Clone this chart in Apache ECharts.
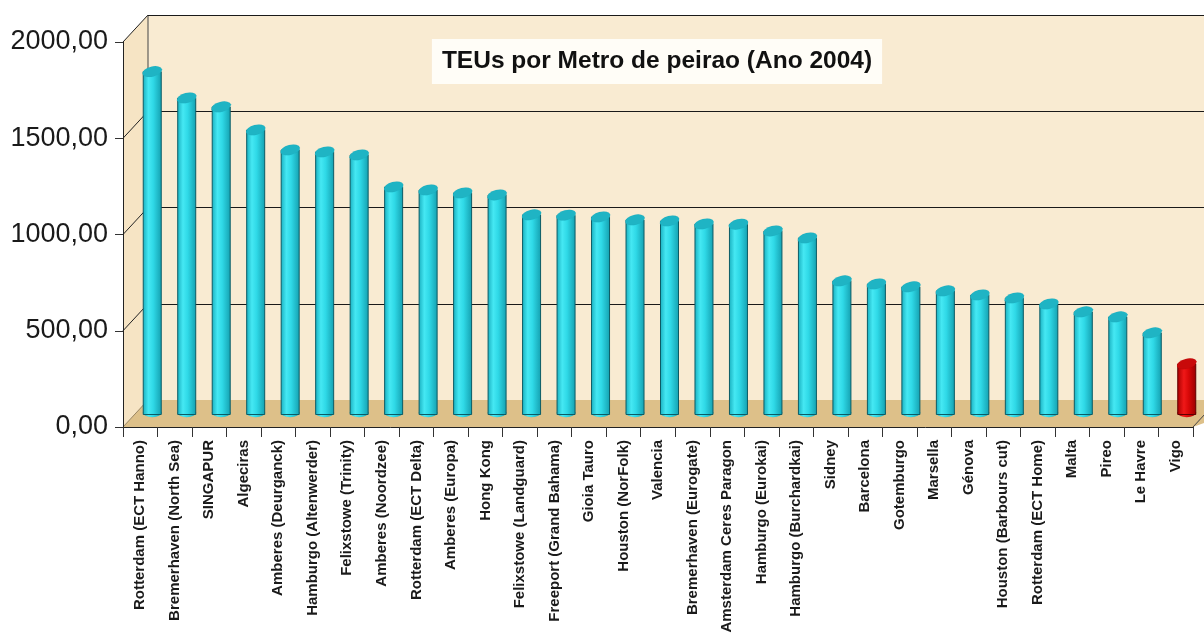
<!DOCTYPE html>
<html>
<head>
<meta charset="utf-8">
<script src="https://cdn.jsdelivr.net/npm/echarts@6/dist/echarts.min.js"></script>
<style>
html,body{margin:0;padding:0;background:#fff;}
#chart{width:1204px;height:642px;}
</style>
</head>
<body>
<div id="chart"></div>
<script>
// ---- data ----
const categories = [
  'Rotterdam (ECT Hanno)', 'Bremerhaven (North Sea)', 'SINGAPUR', 'Algeciras',
  'Amberes (Deurganck)', 'Hamburgo (Altenwerder)', 'Felixstowe (Trinity)', 'Amberes (Noordzee)',
  'Rotterdam (ECT Delta)', 'Amberes (Europa)', 'Hong Kong', 'Felixstowe (Landguard)',
  'Freeport (Grand Bahama)', 'Gioia Tauro', 'Houston (NorFolk)', 'Valencia',
  'Bremerhaven (Eurogate)', 'Amsterdam Ceres Paragon', 'Hamburgo (Eurokai)', 'Hamburgo (Burchardkai)',
  'Sidney', 'Barcelona', 'Gotemburgo', 'Marsella', 'Génova', 'Houston (Barbours cut)',
  'Rotterdam (ECT Home)', 'Malta', 'Pireo', 'Le Havre', 'Vigo'
];
const teusPerMetre = [
  1786, 1649, 1603, 1483, 1379, 1369, 1353, 1187, 1171, 1156, 1145, 1042,
  1040, 1031, 1016, 1010, 995, 993, 958, 922, 699, 683, 668, 647, 626, 610,
  579, 538, 512, 429, 268
];
const highlightCategory = 'Vigo';
const yTicks = [0, 500, 1000, 1500, 2000];
const titleText = 'TEUs por Metro de peirao (Ano 2004)';

// ---- geometry (layout only) ----
const FL = 123, FT = 42, W = 1070, H = 385;       // front plane
const BDX = 25, BDY = -27;                         // back wall offset
const MDX = 12, MDY = -12;                         // bar plane offset
const FB = FT + H;

const cyanBody = new echarts.graphic.LinearGradient(0, 0, 1, 0, [
  {offset: 0, color: '#18AEBE'}, {offset: 0.3, color: '#45E8F3'},
  {offset: 0.55, color: '#2FD9E7'}, {offset: 1, color: '#149FAF'}
]);
const redBody = new echarts.graphic.LinearGradient(0, 0, 1, 0, [
  {offset: 0, color: '#A80000'}, {offset: 0.35, color: '#F01818'},
  {offset: 0.6, color: '#D80808'}, {offset: 1, color: '#980000'}
]);
const isHi = c => c === highlightCategory;

const bodyData = teusPerMetre.map((v, i) => ({
  value: v,
  itemStyle: {color: isHi(categories[i]) ? redBody : cyanBody,
              borderColor: isHi(categories[i]) ? '#600000' : '#0C5C66'}
}));
const topData = teusPerMetre.map((v, i) => ({
  value: v,
  itemStyle: {color: isHi(categories[i]) ? '#C80A0A' : '#1FB4C4',
              borderColor: isHi(categories[i]) ? '#600000' : '#0C5C66'}
}));
const bottomData = teusPerMetre.map((v, i) => ({
  value: v,
  itemStyle: {color: isHi(categories[i]) ? redBody : cyanBody,
              borderColor: isHi(categories[i]) ? '#600000' : '#0C5C66'}
}));

const fmt = v => v.toFixed(2).replace('.', ',');
const yScale = v => FB - v / 2000 * H;

// decorations: walls, floor, side lines
const graphics = [];
graphics.push({type: 'rect', z: -20, silent: true,
  shape: {x: FL + BDX, y: FT + BDY, width: 1300, height: H},
  style: {fill: '#F9EBD2'}});
graphics.push({type: 'polygon', z: -19, silent: true,
  shape: {points: [[FL, FT], [FL + BDX, FT + BDY], [FL + BDX, FB + BDY], [FL, FB]]},
  style: {fill: '#F6E4C4'}});
graphics.push({type: 'polygon', z: -18, silent: true,
  shape: {points: [[FL, FB], [FL + BDX, FB + BDY], [FL + W + BDX + 50, FB + BDY], [FL + W, FB]]},
  style: {fill: '#DDC089'}});
yTicks.forEach(t => {
  graphics.push({type: 'line', z: -17, silent: true,
    shape: {x1: FL, y1: yScale(t), x2: FL + BDX, y2: yScale(t) + BDY},
    style: {stroke: t === 0 ? '#9A8560' : '#222', lineWidth: 1}});
});
graphics.push({type: 'line', z: -17, silent: true,
  shape: {x1: FL + BDX, y1: FT + BDY, x2: FL + BDX, y2: FB + BDY},
  style: {stroke: '#444', lineWidth: 1}});
graphics.push({type: 'line', z: -17, silent: true,
  shape: {x1: FL + W, y1: FB, x2: FL + W + BDX, y2: FB + BDY},
  style: {stroke: '#444', lineWidth: 1}});

const chart = echarts.init(document.getElementById('chart'));
chart.setOption({
  backgroundColor: '#ffffff',
  animation: false,
  title: {
    text: titleText,
    left: 647, top: 39, textAlign: 'center',
    backgroundColor: '#FFFDF7',
    padding: [10, 10, 10, 10],
    textStyle: {fontFamily: 'Liberation Sans, Arial, sans-serif', fontSize: 24.5,
                fontWeight: 'bold', color: '#111'}
  },
  graphic: graphics,
  grid: [
    {left: FL, top: FT, width: W, height: H},                       // front axes
    {left: FL + MDX, top: FT + MDY, width: W, height: H},           // bars
    {left: FL + BDX, top: FT + BDY, width: W, height: H}            // back wall grid lines
  ],
  xAxis: [
    {type: 'category', gridIndex: 0, data: categories, boundaryGap: true,
     axisLine: {lineStyle: {color: '#222', width: 1}},
     axisTick: {show: true, interval: 0, length: 10, lineStyle: {color: '#333'}},
     axisLabel: {interval: 0, rotate: 90, margin: 13, fontSize: 15, fontWeight: 'bold',
                 fontFamily: 'Liberation Sans, Arial, sans-serif', color: '#1a1a1a'}},
    {type: 'category', gridIndex: 1, data: categories, show: false},
    {type: 'category', gridIndex: 2, data: categories, show: false}
  ],
  yAxis: [
    {type: 'value', gridIndex: 0, min: 0, max: 2000, interval: 500,
     axisLine: {show: true, lineStyle: {color: '#222'}},
     axisTick: {show: true, length: 8, lineStyle: {color: '#333'}},
     splitLine: {show: false},
     axisLabel: {formatter: fmt, fontSize: 27, margin: 15, color: '#1a1a1a',
                 fontFamily: 'Liberation Sans, Arial, sans-serif'}},
    {type: 'value', gridIndex: 1, min: 0, max: 2000, interval: 500, show: false},
    {type: 'value', gridIndex: 2, min: 0, max: 2000, interval: 500,
     axisLine: {show: false}, axisTick: {show: false}, axisLabel: {show: false},
     splitLine: {show: true, showMinLine: false, lineStyle: {color: '#1a1a1a', width: 1}}}
  ],
  series: [
    {type: 'pictorialBar', xAxisIndex: 1, yAxisIndex: 1, z: 1,
     symbol: 'path://M0,0 A10,5 0 0 0 20,0 Z',
     symbolSize: [19, 5], symbolPosition: 'start', symbolOffset: [0, '50%'],
     itemStyle: {borderWidth: 1}, data: bottomData},
    {type: 'bar', xAxisIndex: 1, yAxisIndex: 1, z: 2, barWidth: 19,
     itemStyle: {borderWidth: 1}, data: bodyData},
    {type: 'pictorialBar', xAxisIndex: 1, yAxisIndex: 1, z: 3,
     symbol: 'circle', symbolSize: [20, 10], symbolPosition: 'end',
     symbolOffset: [0, '-50%'], symbolRotate: 14,
     itemStyle: {borderWidth: 1}, data: topData}
  ]
});
</script>
</body>
</html>
